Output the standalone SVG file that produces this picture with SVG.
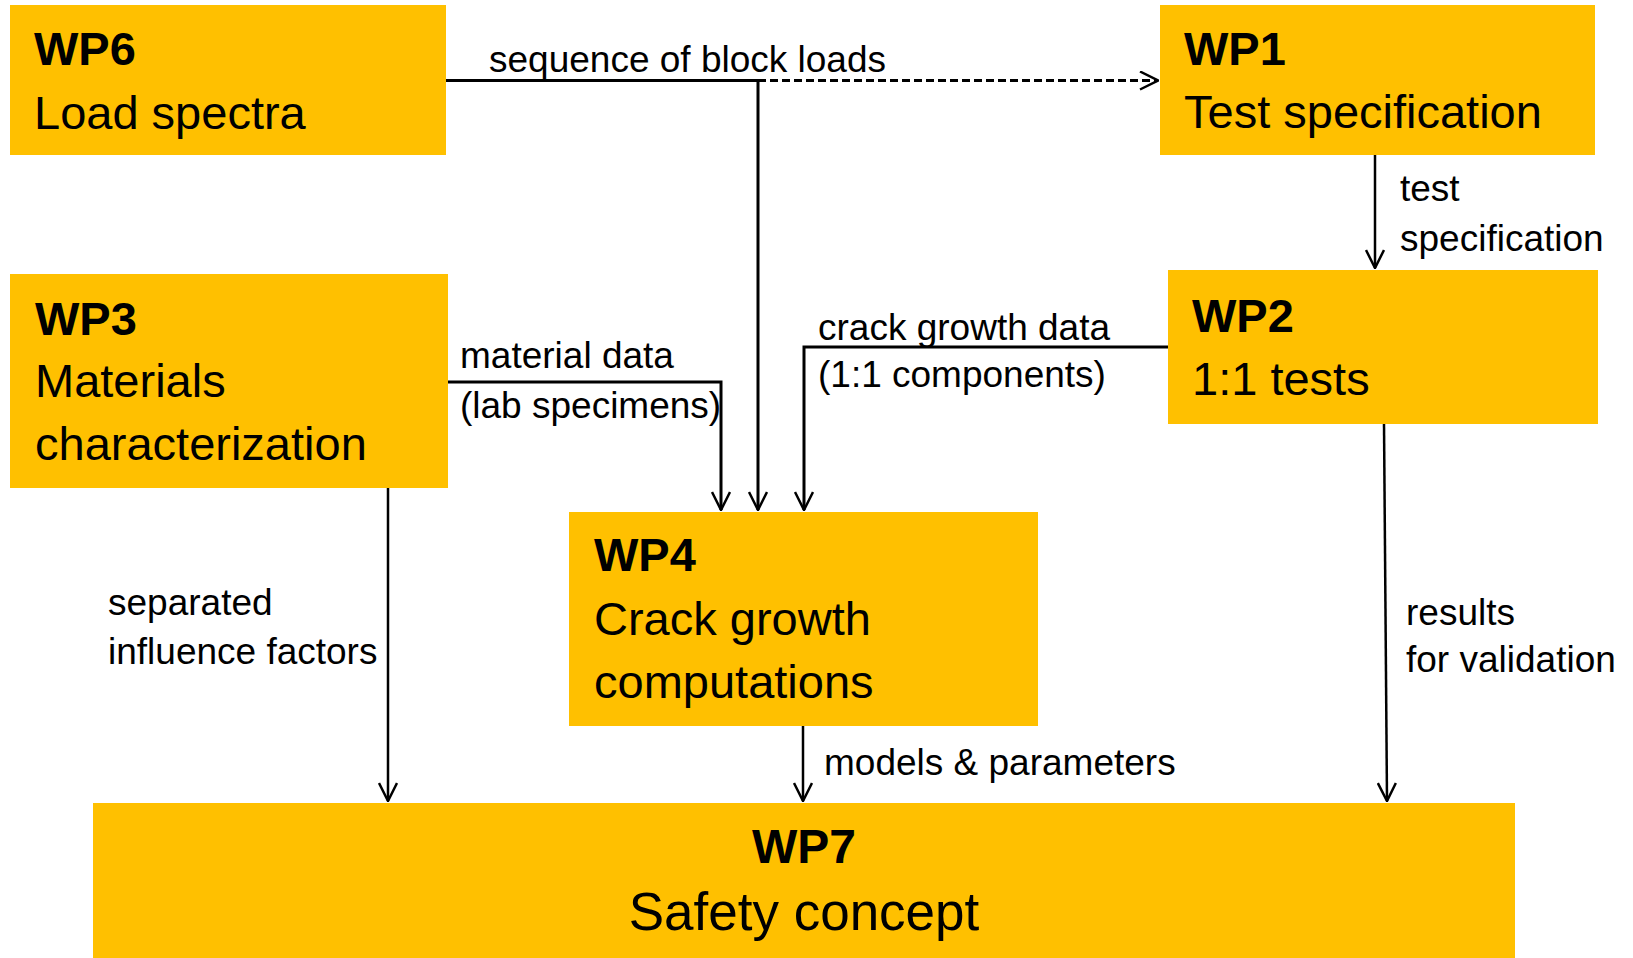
<svg xmlns="http://www.w3.org/2000/svg" width="1633" height="958" viewBox="0 0 1633 958">
<defs>
<style>
.box{fill:#FFC000;}
.t{font-family:"Liberation Sans",Arial,sans-serif;font-size:47px;fill:#000;}
.b{font-weight:bold;}
.lbl{font-family:"Liberation Sans",Arial,sans-serif;font-size:37px;fill:#000;}
.c{fill:none;stroke:#000;stroke-width:2.5;}
.thick{stroke-width:3;}
.dash{stroke-dasharray:8 4;}
</style>
<marker id="arr" viewBox="0 0 20 20" refX="19" refY="10" markerWidth="20" markerHeight="20" markerUnits="userSpaceOnUse" orient="auto">
<path d="M1,1 L19,10 L1,19" fill="none" stroke="#000" stroke-width="2.5"/>
</marker>
</defs>
<rect width="1633" height="958" fill="#fff"/>
<g id="connectors">
<path class="c thick" d="M446,80.5 H758 V510" marker-end="url(#arr)"/>
<path class="c thick dash" d="M758,80.5 H1158" marker-end="url(#arr)"/>
<path class="c thick" d="M448,382 H721 V510" marker-end="url(#arr)"/>
<path class="c thick" d="M1168,347 H804 V510" marker-end="url(#arr)"/>
<path class="c" d="M1375,155 V268" marker-end="url(#arr)"/>
<path class="c" d="M388,488 V801" marker-end="url(#arr)"/>
<path class="c" d="M803,726 V801" marker-end="url(#arr)"/>
<path class="c" d="M1384,424 L1387,801" marker-end="url(#arr)"/>
<text class="lbl" x="489" y="72">sequence of block loads</text>
<text class="lbl" x="460" y="368">material data</text>
<text class="lbl" x="460" y="418">(lab specimens)</text>
<text class="lbl" x="818" y="340">crack growth data</text>
<text class="lbl" x="818" y="387">(1:1 components)</text>
<text class="lbl" x="1400" y="201">test</text>
<text class="lbl" x="1400" y="251">specification</text>
<text class="lbl" x="108" y="615">separated</text>
<text class="lbl" x="108" y="664">influence factors</text>
<text class="lbl" x="824" y="775">models &amp; parameters</text>
<text class="lbl" x="1406" y="625">results</text>
<text class="lbl" x="1406" y="672">for validation</text>
</g>
<g id="WP6">
<rect class="box" x="10" y="5" width="436" height="150"/>
<text class="t b" x="34" y="65">WP6</text>
<text class="t" x="34" y="129">Load spectra</text>
</g>
<g id="WP1">
<rect class="box" x="1160" y="5" width="435" height="150"/>
<text class="t b" x="1184" y="65">WP1</text>
<text class="t" x="1184" y="128">Test specification</text>
</g>
<g id="WP3">
<rect class="box" x="10" y="274" width="438" height="214"/>
<text class="t b" x="35" y="335">WP3</text>
<text class="t" x="35" y="397">Materials</text>
<text class="t" x="35" y="460">characterization</text>
</g>
<g id="WP2">
<rect class="box" x="1168" y="270" width="430" height="154"/>
<text class="t b" x="1192" y="332">WP2</text>
<text class="t" x="1192" y="395">1:1 tests</text>
</g>
<g id="WP4">
<rect class="box" x="569" y="512" width="469" height="214"/>
<text class="t b" x="594" y="571">WP4</text>
<text class="t" x="594" y="635">Crack growth</text>
<text class="t" x="594" y="698">computations</text>
</g>
<g id="WP7">
<rect class="box" x="93" y="803" width="1422" height="155"/>
<text class="t b" x="804" y="863" text-anchor="middle" style="font-size:48px">WP7</text>
<text class="t" x="804" y="930" text-anchor="middle" style="font-size:53px">Safety concept</text>
</g>
</svg>
